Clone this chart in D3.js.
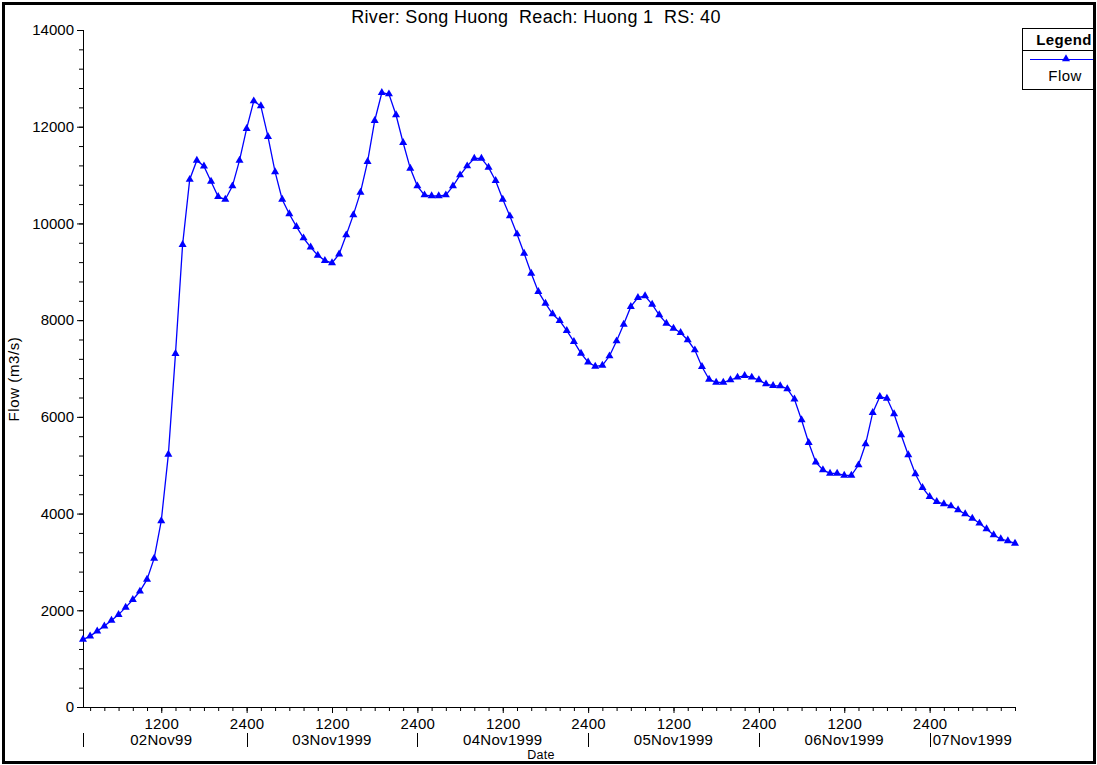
<!DOCTYPE html>
<html>
<head>
<meta charset="utf-8">
<script src="https://cdn.jsdelivr.net/npm/d3@7"></script>
<style>
  html, body { margin: 0; padding: 0; background: #fff; }
  svg { display: block; }
  text { font-family: "Liberation Sans", Arial, sans-serif; fill: #000; }
</style>
</head>
<body>
<svg id="chart" width="1097" height="765"></svg>
<script>
// Hourly flow hydrograph, 02Nov1999 0100 to 07Nov1999 1200 (hours counted from 02Nov1999 0000)
const firstHour = 1;
const flow = [
  1396, 1466, 1569, 1673, 1791, 1911, 2060, 2219, 2393, 2639,
  3073, 3848, 5225, 7308, 9562, 10908, 11303, 11185, 10869, 10552,
  10496, 10773, 11303, 11960, 12531, 12428, 11795, 11067, 10496, 10196,
  9934, 9698, 9508, 9340, 9231, 9183, 9365, 9760, 10177, 10641,
  11278, 12124, 12703, 12676, 12242, 11669, 11139, 10773, 10587, 10567,
  10567, 10587, 10773, 11001, 11187, 11346, 11346, 11160, 10883, 10498,
  10153, 9781, 9382, 8968, 8588, 8348, 8127, 7988, 7781, 7554,
  7314, 7130, 7044, 7065, 7258, 7568, 7913, 8278, 8464, 8499,
  8327, 8106, 7934, 7831, 7740, 7589, 7382, 7037, 6776, 6714,
  6714, 6762, 6818, 6851, 6818, 6762, 6679, 6644, 6638, 6580,
  6365, 5935, 5465, 5062, 4904, 4832, 4832, 4791, 4791, 5004,
  5438, 6086, 6417, 6383, 6059, 5625, 5211, 4818, 4535, 4349,
  4245, 4198, 4156, 4074, 3991, 3902, 3799, 3681, 3557, 3474,
  3433, 3385
];

// Axis labelling
const yTickValues = [0, 2000, 4000, 6000, 8000, 10000, 12000, 14000];
const hourTickHours = [12, 24, 36, 48, 60, 72, 84, 96, 108, 120];
const hourTickLabels = ["1200", "2400", "1200", "2400", "1200", "2400", "1200", "2400", "1200", "2400"];
const dateLabelHours = [12, 36, 60, 84, 108, 120];
const dateLabels = ["02Nov99", "03Nov1999", "04Nov1999", "05Nov1999", "06Nov1999", "07Nov1999"];
const dayMarkHours = [1, 24, 48, 72, 96, 120];

const title = "River: Song Huong  Reach: Huong 1  RS: 40";
const seriesName = "Flow";

const svg = d3.select("#chart");
const hours = flow.map((_, i) => firstHour + i);

const x = d3.scaleLinear().domain([firstHour, hours[hours.length - 1]]).range([83, 1015]);
const y = d3.scaleLinear().domain([0, 14000]).range([707, 30]);

const labelFont = "15px";

// Y axis: labelled majors every 2000, minor ticks every 400
const yMinor = d3.range(0, 14001, 400);
svg.append("g")
  .attr("transform", "translate(83,0)")
  .call(d3.axisLeft(y).tickValues(yMinor).tickSize(4).tickFormat(""))
  .call(g => g.select(".domain").remove());
const yAxis = svg.append("g")
  .attr("transform", "translate(83,0)")
  .call(d3.axisLeft(y).tickValues(yTickValues).tickSize(6).tickPadding(3).tickFormat(d3.format("d")));
yAxis.selectAll("text").style("font-size", labelFont);
yAxis.select(".domain").attr("d", `M0.5,${y(0)}V${y(14000)}`);
svg.selectAll(".tick line").attr("stroke", "#000");

// X axis: minor ticks every 2 hours, longer ticks at 1200/2400
const xMinor = d3.range(2, 133, 2);
svg.append("g")
  .attr("transform", "translate(0,707)")
  .call(d3.axisBottom(x).tickValues(xMinor).tickSize(4).tickFormat(""))
  .call(g => g.select(".domain").attr("d", `M${x(firstHour)},0.5H${x(hours[hours.length - 1])}`));
const xMajor = svg.append("g")
  .attr("transform", "translate(0,707)")
  .call(d3.axisBottom(x).tickValues(hourTickHours).tickSize(6).tickPadding(5)
    .tickFormat((d, i) => hourTickLabels[i]));
xMajor.select(".domain").remove();
xMajor.selectAll("text").style("font-size", labelFont).style("letter-spacing", "0.3px");

// Date row
svg.append("g").selectAll("text")
  .data(dateLabels)
  .join("text")
  .attr("x", (d, i) => i === dateLabels.length - 1 ? x(dateLabelHours[i]) + 3 : x(dateLabelHours[i]))
  .attr("y", 745)
  .attr("text-anchor", (d, i) => i === dateLabels.length - 1 ? "start" : "middle")
  .style("font-size", labelFont)
  .style("letter-spacing", "0.3px")
  .text(d => d);

svg.append("g").selectAll("line")
  .data(dayMarkHours)
  .join("line")
  .attr("x1", d => Math.round(x(d)) + 0.5)
  .attr("x2", d => Math.round(x(d)) + 0.5)
  .attr("y1", 733)
  .attr("y2", 747)
  .attr("stroke", "#000")
  .attr("stroke-width", 1);

svg.append("text")
  .attr("x", 541).attr("y", 759)
  .attr("text-anchor", "middle")
  .style("font-size", "12.5px")
  .style("letter-spacing", "0.3px")
  .text("Date");

svg.append("text")
  .attr("transform", "translate(19,379) rotate(-90)")
  .attr("text-anchor", "middle")
  .style("font-size", "15px")
  .style("letter-spacing", "0.6px")
  .text("Flow (m3/s)");

svg.append("text")
  .attr("x", 536).attr("y", 23)
  .attr("text-anchor", "middle")
  .attr("xml:space", "preserve")
  .style("white-space", "pre")
  .style("font-size", "18px")
  .style("letter-spacing", "0.3px")
  .text(title);

// Flow line with triangle markers
const line = d3.line().x((d, i) => x(hours[i])).y(d => y(d));
svg.append("path")
  .datum(flow)
  .attr("fill", "none")
  .attr("stroke", "#0000ff")
  .attr("stroke-width", 1.3)
  .attr("d", line);

const tri = d3.symbol().type(d3.symbolTriangle).size(28);
svg.append("g").selectAll("path")
  .data(flow)
  .join("path")
  .attr("transform", (d, i) => `translate(${x(hours[i])},${y(d)})`)
  .attr("d", tri)
  .attr("fill", "#0000ff");

// Legend box
const lg = svg.append("g");
lg.append("rect")
  .attr("x", 1022.5).attr("y", 28.5)
  .attr("width", 80).attr("height", 61)
  .attr("fill", "#fff").attr("stroke", "#000");
lg.append("line")
  .attr("x1", 1022.5).attr("x2", 1100).attr("y1", 50.5).attr("y2", 50.5)
  .attr("stroke", "#000");
lg.append("text")
  .attr("x", 1064).attr("y", 45)
  .attr("text-anchor", "middle")
  .style("font-size", "15px").style("font-weight", "bold")
  .style("letter-spacing", "0.4px")
  .text("Legend");
lg.append("line")
  .attr("x1", 1030).attr("x2", 1096).attr("y1", 59.5).attr("y2", 59.5)
  .attr("stroke", "#0000ff").attr("stroke-width", 1.2);
lg.append("path")
  .attr("transform", "translate(1066,59)")
  .attr("d", tri)
  .attr("fill", "#0000ff");
lg.append("text")
  .attr("x", 1065).attr("y", 81)
  .attr("text-anchor", "middle")
  .style("font-size", "15px")
  .style("letter-spacing", "0.4px")
  .text(seriesName);

// Outer frame
svg.append("rect")
  .attr("x", 3.5).attr("y", 3.5)
  .attr("width", 1091).attr("height", 759)
  .attr("fill", "none")
  .attr("stroke", "#000")
  .attr("stroke-width", 3);
svg.append("rect")
  .attr("x", 1096).attr("y", 0).attr("width", 1).attr("height", 765).attr("fill", "#fff");
</script>
</body>
</html>
